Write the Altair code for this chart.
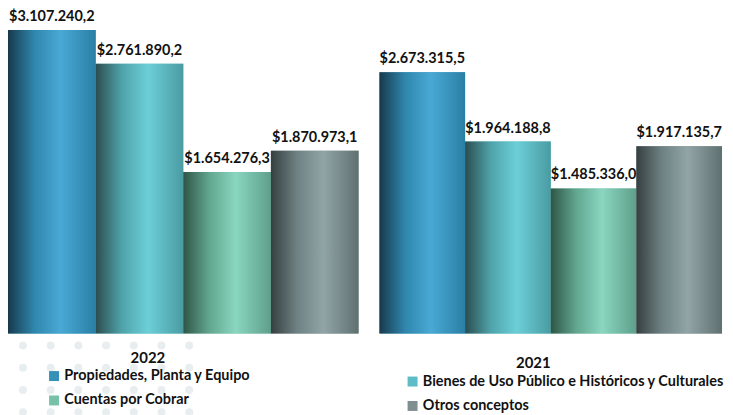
import altair as alt
import pandas as pd

# ---------------- data ----------------
categories = [
    "Propiedades, Planta y Equipo",
    "Bienes de Uso Público e Históricos y Culturales",
    "Cuentas por Cobrar",
    "Otros conceptos",
]
values_2022 = [3107240.2, 2761890.2, 1654276.3, 1870973.1]
values_2021 = [2673315.5, 1964188.8, 1485336.0, 1917135.7]
years = ["2022", "2021"]
legend_left = ["Propiedades, Planta y Equipo", "Cuentas por Cobrar"]
legend_right = ["Bienes de Uso Público e Históricos y Culturales", "Otros conceptos"]

# decorative dot grid (indices only)
dot_cols = [0, 1, 2, 3, 4, 5, 6]
dot_rows = [0, 1, 2, 3]

# ---------------- styles ----------------
swatches = ["#3591b8", "#5dbcc5", "#77c1a8", "#7f8e8f"]
gradients = [
    ["#173a4c", "#2f86ad", "#49a9d5", "#2a7fa5"],
    ["#2c4d4f", "#4fa3aa", "#6ccfd8", "#4a9ba2"],
    ["#2f5546", "#62a790", "#8ad6bf", "#5e9f8a"],
    ["#363f40", "#6f8283", "#91a4a6", "#607071"],
]
stop_offsets = [0.0, 0.3, 0.6, 1.0]
FONT = "Lato"
H = 326
YMAX = 3323000


def fmt(v):
    s = f"{v:,.1f}"
    s = s.replace(",", "X").replace(".", ",").replace("X", ".")
    return "$" + s


def panel(year, vals, legend_vals, width, title_x, title_y, legend_x, legend_y, dots=False):
    df = pd.DataFrame(
        {"categoria": categories, "valor": vals, "etiqueta": [fmt(v) for v in vals]}
    )
    x = alt.X(
        "categoria:N",
        sort=categories,
        scale=alt.Scale(domain=categories, paddingInner=0, paddingOuter=0),
        axis=alt.Axis(
            title=year,
            labels=False,
            ticks=False,
            domain=False,
            grid=False,
            titleX=title_x,
            titleY=title_y,
            titleFont=FONT,
            titleFontSize=15,
            titleFontWeight="bold",
            titleColor="#111111",
            titleBaseline="middle",
            titleAlign="center",
        ),
    )
    y = alt.Y("valor:Q", scale=alt.Scale(domain=[0, YMAX], nice=False), axis=None)
    base = alt.Chart(df).encode(x=x, y=y)

    legend_bars = base.mark_bar().encode(
        color=alt.Color(
            "categoria:N",
            scale=alt.Scale(domain=categories, range=swatches),
            legend=alt.Legend(
                values=legend_vals,
                orient="none",
                legendX=legend_x,
                legendY=legend_y,
                title=None,
                direction="vertical",
                symbolType="square",
                symbolSize=100,
                symbolStrokeWidth=0,
                labelFont=FONT,
                labelFontSize=14.5,
                labelFontWeight="bold",
                labelColor="#111111",
                labelOffset=3,
                labelLimit=500,
                rowPadding=9.5,
                padding=0,
            ),
        )
    )

    layers = [legend_bars]
    for cat, cols in zip(categories, gradients):
        g = alt.Gradient(
            gradient="linear",
            x1=0, x2=1, y1=0, y2=0,
            stops=[alt.GradientStop(offset=o, color=c) for o, c in zip(stop_offsets, cols)],
        )
        layers.append(
            base.transform_filter(alt.datum.categoria == cat).mark_bar(color=g)
        )
    text = base.mark_text(
        dy=-6, baseline="bottom", font=FONT, fontSize=14.5, fontWeight="bold", color="#111111"
    ).encode(text="etiqueta:N")
    layers.append(text)
    inner = alt.layer(*layers)

    if dots:
        ddf = pd.DataFrame(
            [{"c": c, "r": r} for c in dot_cols for r in dot_rows]
        )
        dot_layer = alt.Chart(ddf).mark_circle(size=64, color="#e8edef", opacity=1).encode(
            x=alt.X("c:Q", scale=alt.Scale(domain=[0, 6], range=[15, 182]), axis=None),
            y=alt.Y("r:Q", scale=alt.Scale(domain=[0, 3], range=[338, 405]), axis=None),
        )
        return (
            alt.layer(dot_layer, inner)
            .resolve_scale(x="independent", y="independent")
            .properties(width=width, height=H)
        )
    return inner.properties(width=width, height=H)


left = panel("2022", values_2022, legend_left, 352, 140, 24, 39, 361.5, dots=True)
right = panel("2021", values_2021, legend_right, 344, 154, 29, 26, 367)

chart = (
    alt.hconcat(left, right, spacing=21)
    .resolve_scale(color="independent")
    .resolve_legend(color="independent")
    .properties(padding=0, background="white")
    .configure_view(stroke=None)
)

chart.save("out.html", embed_options={"renderer": "svg", "actions": False})
